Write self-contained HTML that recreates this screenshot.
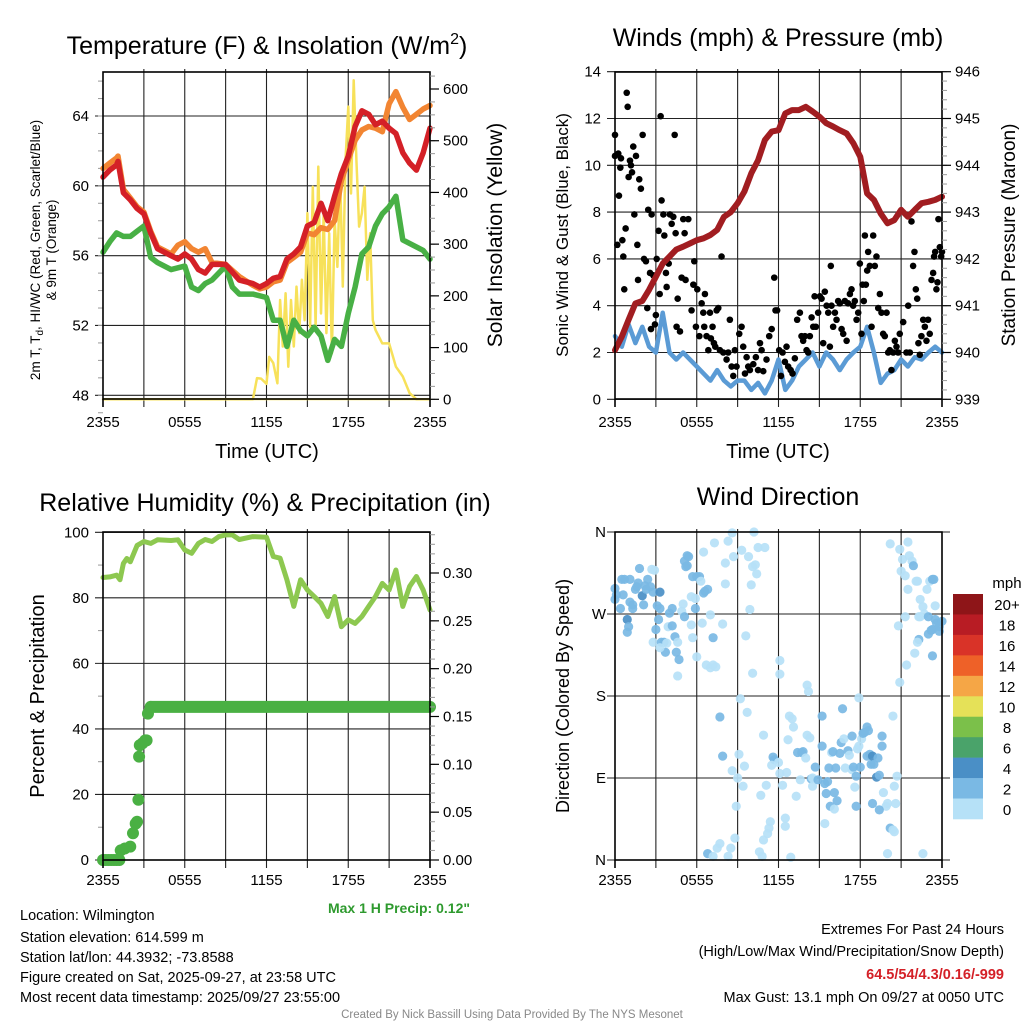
<!DOCTYPE html>
<html><head><meta charset="utf-8">
<style>
html,body{margin:0;padding:0;background:#fff;}
svg{display:block;font-family:"Liberation Sans",Arial,sans-serif;}
</style></head>
<body>
<svg id="c" width="1024" height="1024" viewBox="0 0 1024 1024" xmlns="http://www.w3.org/2000/svg">
<rect width="1024" height="1024" fill="#fff"/>
<text x="267" y="54" font-size="25" text-anchor="middle">Temperature (F) &amp; Insolation (W/m<tspan dy="-10" font-size="16">2</tspan><tspan dy="10">)</tspan></text>
<text x="778" y="46" font-size="25" text-anchor="middle">Winds (mph) &amp; Pressure (mb)</text>
<text x="265" y="511" font-size="25" text-anchor="middle">Relative Humidity (%) &amp; Precipitation (in)</text>
<text x="778" y="505" font-size="25" text-anchor="middle">Wind Direction</text>

<text transform="translate(40,250) rotate(-90)" font-size="13.5" text-anchor="middle">2m T, T<tspan font-size="10" dy="3">d</tspan><tspan dy="-3">, HI/WC (Red, Green, Scarlet/Blue)</tspan></text>
<text transform="translate(56,250) rotate(-90)" font-size="13.5" text-anchor="middle">&amp; 9m T (Orange)</text>
<text transform="translate(502,235) rotate(-90)" font-size="21" text-anchor="middle">Solar Insolation (Yellow)</text>
<text x="267" y="458" font-size="20" text-anchor="middle">Time (UTC)</text>
<text transform="translate(568,235) rotate(-90)" font-size="17" text-anchor="middle">Sonic Wind &amp; Gust (Blue, Black)</text>
<text transform="translate(1015,235) rotate(-90)" font-size="19" text-anchor="middle">Station Pressure (Maroon)</text>
<text x="778" y="458" font-size="20" text-anchor="middle">Time (UTC)</text>
<text transform="translate(44,696) rotate(-90)" font-size="20" text-anchor="middle">Percent &amp; Precipitation</text>
<text transform="translate(569,696) rotate(-90)" font-size="18" text-anchor="middle">Direction (Colored By Speed)</text>

<text x="470" y="913" font-size="14" font-weight="bold" fill="#2e9a2e" text-anchor="end">Max 1 H Precip: 0.12"</text>
<g font-size="14.5">
<text x="20" y="920">Location: Wilmington</text>
<text x="20" y="942">Station elevation: 614.599 m</text>
<text x="20" y="962">Station lat/lon: 44.3932; -73.8588</text>
<text x="20" y="982">Figure created on Sat, 2025-09-27, at 23:58 UTC</text>
<text x="20" y="1002">Most recent data timestamp: 2025/09/27 23:55:00</text>
</g>
<g font-size="14.5" text-anchor="end">
<text x="1004" y="934">Extremes For Past 24 Hours</text>
<text x="1004" y="956">(High/Low/Max Wind/Precipitation/Snow Depth)</text>
<text x="1004" y="979" fill="#d42027" font-weight="bold">64.5/54/4.3/0.16/-999</text>
<text x="1004" y="1002">Max Gust: 13.1 mph On 09/27 at 0050 UTC</text>
</g>
<text x="512" y="1018" font-size="11.5" fill="#888" text-anchor="middle">Created By Nick Bassill Using Data Provided By The NYS Mesonet</text>
</svg>
<script>
// ---- Temperature panel data ----
const tHours = [0,0.5,1,1.1,1.5,2,2.5,3,3.5,4,5,5.5,6,6.5,7,7.5,8,9,10,11,11.5,12,12.5,13,13.5,14,14.5,15,15.5,16,16.5,17,17.5,18,18.5,19,19.5,20,20.5,21,21.5,22,22.5,23,23.5,24];
const tempRed = [60.5,60.9,61.2,61.4,59.6,59.2,58.7,58.4,57.3,56.4,56,55.8,56.1,55.8,55.2,55,55.5,55.5,54.6,54.4,54.2,54.4,54.7,54.8,55.8,56.1,56.5,57.7,57.9,59,58,59.4,60.7,61.7,63.4,64.3,64.1,63.5,63.7,63.3,63,61.9,61.3,60.9,61.9,63.3];
const tempOrange = [61,61.3,61.6,61.7,59.8,59.3,58.8,58.5,57.4,56.5,56.1,56.6,56.8,56.4,56.2,56.4,55.6,55.5,54.8,54.3,54.1,54.2,54.5,54.6,55.6,55.9,56.2,57.3,57.2,57.6,57.5,58,60.3,61.5,62.6,63.2,63.4,63.3,63.1,64.7,65.4,64.5,63.8,64.1,64.4,64.6];
const dewHours = [0,0.5,1,1.5,2,2.5,3,3.5,4,5,6,6.5,7,7.5,8,9,9.5,10,11,12,12.5,13,13.5,14,14.5,15,15.5,16,16.5,17,17.5,18,18.5,19,19.5,20,20.5,21,21.5,22,22.5,23,23.5,24];
const dewGreen = [56.2,56.8,57.3,57.1,57.1,57.4,57.7,55.9,55.6,55.2,55.4,54.2,54,54.4,54.6,55.4,54.2,53.8,53.8,53.6,52.3,52.3,50.8,52.3,51.7,51.4,51.9,51.4,50,51.2,50.8,52.7,54.2,56.1,56.5,57.7,58.4,58.8,59.4,56.9,56.7,56.5,56.3,55.8];
const solarHours = [0,11,11.3,11.6,12,12.2,12.5,12.8,13,13.2,13.4,13.6,13.8,14,14.2,14.4,14.6,14.8,15,15.2,15.4,15.6,15.8,16,16.2,16.4,16.6,16.8,17,17.2,17.4,17.6,17.8,18,18.2,18.4,18.6,18.8,19,19.2,19.4,19.6,19.8,20,20.5,21,21.5,22,22.5,23,24];
const solarW = [0,0,41,40,30,82,70,31,192,102,205,63,192,102,218,128,231,153,360,140,411,140,450,166,360,128,321,89,347,256,437,218,463,566,398,617,463,334,360,411,231,321,153,134,108,108,63,44,12,0,0];
const tempTicks = [48,52,56,60,64];
const solarTicks = [0,100,200,300,400,500,600];
const timeLabels = ["2355","0555","1155","1755","2355"];

// ---- Wind panel data ----
const presHours = [0,0.5,1,1.5,2,2.5,3,3.5,4,4.5,5,5.5,6,6.5,7,7.5,8,8.5,9,9.5,10,10.5,11,11.5,12,12.5,13,13.5,14,14.5,15,15.5,16,16.5,17,17.5,18,18.5,19,19.5,20,20.5,21,21.5,22,22.5,23,23.5,24];
const pressureMb = [940.05,940.34,940.7,941.05,941.1,941.34,941.62,941.9,942.05,942.2,942.26,942.33,942.4,942.44,942.51,942.62,942.9,943.0,943.19,943.44,943.83,944.11,944.54,944.72,944.75,945.11,945.18,945.18,945.25,945.15,945.04,944.9,944.83,944.75,944.68,944.47,944.18,943.4,943.26,942.97,942.76,942.83,943.05,942.9,943.05,943.19,943.22,943.26,943.33];
const windSpeed = [2.7,2.25,3.2,2.4,3.1,2.25,2,3.7,2,1.7,2,1.7,1.4,1.1,0.8,1.25,0.8,0.55,0.8,0.8,0.4,0.7,0.25,0.8,1.7,0.4,0.8,1.4,1.7,2,1.4,2,1.7,1.25,1.7,2,2.25,3.1,2,0.7,1.1,1.25,1.7,1.4,1.8,1.7,2,2.25,2];
const gustH = [0,0,0.17,0.24,0.29,0.39,0.44,0.54,0.61,0.68,0.78,0.86,0.93,1.0,1.1,1.17,1.25,1.34,1.42,1.54,1.64,1.69,1.78,1.9,2.03,2.13,2.27,2.37,2.44,2.57,2.64,2.69,2.81,2.93,3.0,3.06,3.2,3.28,3.35,3.42,3.55,3.62,3.74,3.79,3.94,4.03,4.16,4.28,4.38,4.45,4.52,4.6,4.77,4.89,5.01,5.11,5.18,5.38,5.62,5.75,5.82,5.94,6.04,6.19,6.36,6.48,6.55,6.6,6.72,6.85,6.97,7.04,7.16,7.26,7.36,7.46,7.58,7.7,7.82,7.95,8.19,8.31,8.43,8.56,8.68,8.8,8.92,9.12,9.29,9.41,9.54,9.66,9.78,9.9,10.15,10.34,10.5,10.64,10.76,10.88,11.12,11.32,11.5,11.69,11.78,11.9,12.05,12.18,12.3,12.47,12.59,12.71,12.89,13.03,13.2,13.37,13.57,13.69,13.81,13.94,14.06,14.18,14.3,14.43,14.55,14.65,14.74,14.91,15.04,15.16,15.28,15.4,15.53,15.65,15.77,15.84,15.89,16.01,16.14,16.26,16.38,16.5,16.63,16.75,16.87,17.0,17.11,17.24,17.36,17.48,17.6,17.73,17.85,17.97,18.09,18.17,18.26,18.34,18.41,18.51,18.58,18.7,18.83,18.95,19.07,19.19,19.32,19.44,19.56,19.68,19.8,19.93,20.05,20.17,20.29,20.42,20.54,20.66,20.78,20.9,21.15,21.39,21.52,21.64,21.76,21.88,21.98,22.08,22.18,22.27,22.37,22.49,22.62,22.74,22.86,22.98,23.1,23.23,23.35,23.42,23.5,23.59,23.67,23.74,23.84,23.94,24];
const gustV = [11.3,10.4,6.6,10.5,8.7,9.9,10.3,6.8,6.1,4.7,7.3,13.1,12.5,9.5,10.2,10.0,9.7,10.8,7.9,10.4,6.6,5.1,9.4,9.0,11.3,6.0,5.9,3.9,8.1,5.4,3.0,7.9,5.3,3.2,3.6,6.0,7.2,4.5,12.1,8.5,7.9,7.0,5.4,4.8,5.8,7.9,7.5,7.8,11.3,7.1,3.1,4.3,2.9,5.2,7.7,7.1,5.1,7.7,3.8,4.9,5.9,3.1,4.7,2.7,4.1,3.7,3.1,4.5,2.7,2.1,3.7,2.6,3.1,2.4,2.25,3.8,3.9,2.1,6.1,2.0,1.7,2.0,3.4,1.4,1.0,2.1,1.4,2.8,3.1,2.25,1.1,1.8,1.4,1.25,1.5,1.8,1.25,2.4,2.1,1.2,1.7,2.7,3.0,5.2,3.8,3.8,2.1,1.0,2.0,1.6,2.25,1.4,1.25,1.1,1.75,3.4,3.7,2.7,2.5,2.7,2.1,2.0,2.7,3.5,3.1,4.4,3.1,3.7,4.4,4.3,2.4,4.6,4.0,3.7,2.25,5.7,4.0,3.1,3.7,3.4,4.2,4.1,3.0,2.8,4.2,2.5,4.1,4.5,4.7,4.0,4.2,3.4,3.7,5.8,2.8,4.9,4.2,7.0,4.9,5.5,6.3,5.7,3.1,7.0,5.7,6.1,3.9,4.5,3.7,2.8,2.7,3.7,2.0,2.1,1.25,2.0,2.5,2.25,2.0,2.8,3.3,2.0,4.0,2.0,7.6,5.7,6.3,4.7,4.3,2.4,1.9,2.7,3.4,3.1,2.5,3.4,2.8,5.1,5.4,6.1,6.3,4.7,5.0,7.7,6.5,6.1,6.3];
const windTicks = [0,2,4,6,8,10,12,14];
const presTicks = [939,940,941,942,943,944,945,946];

// ---- RH / precip panel data ----
const rhHours = [0,0.5,1,1.25,1.5,1.75,2,2.5,3,3.5,4,5,5.5,6,6.5,7,7.5,8,8.5,9,9.5,10,11,12,12.5,13,13.5,14,14.5,15,15.5,16,16.5,17,17.5,18,18.5,19,19.5,20,20.5,21,21.5,22,22.5,23,23.5,24];
const rhPct = [86.2,86.4,86.9,85.5,90.5,92,91,96,97.2,96.6,97.7,97.5,97.7,94.6,93.6,96.6,97.8,97.2,98.7,99.2,99.2,97.8,98.7,98.5,92.6,92.1,85.5,77.4,85.5,82.4,80.4,78.3,74.3,80.4,71.2,73.3,72.2,74.3,77.4,80.4,84.4,82.4,88.5,77.4,83.5,86.5,82.4,76.3];
const precipHours = [0,0.2,0.4,0.6,0.8,1.0,1.2,1.3,1.6,2.0,2.2,2.4,2.5,2.6,2.65,2.7,2.9,3.1,3.2,3.3,3.5];
const precipIn = [0,0,0,0,0,0,0,0.01,0.012,0.014,0.028,0.038,0.04,0.063,0.108,0.12,0.122,0.125,0.125,0.153,0.16];
const precipFlat = 0.16;
const rhTicks = [0,20,40,60,80,100];
const precipTicks = ["0.00","0.05","0.10","0.15","0.20","0.25","0.30"];

// ---- Wind direction panel data ----
const dirH = [0,0,0.1,0.4,0.5,0.6,0.7,0.9,1.0,0.9,1.1,1.1,1.3,1.3,1.5,1.6,1.7,1.8,2.0,2.1,2.2,2.3,2.4,2.6,2.7,2.8,2.9,3.1,3.2,3.0,3.3,3.3,2.8,3.4,3.6,3.7,3.3,3.8,3.9,4.0,4.2,4.2,4.4,4.5,4.6,4.7,4.6,4.9,5.0,5.1,5.1,5.3,5.4,5.2,5.3,5.7,6.0,6.2,6.3,5.9,5.6,5.9,5.6,5.7,6.0,6.4,6.5,6.6,6.8,6.5,7.0,7.2,6.7,7.0,7.2,7.4,7.3,7.9,8.1,8.1,8.3,8.6,8.7,9.3,9.6,9.8,9.9,10.0,10.1,10.1,10.2,10.3,10.4,10.5,11.0,9.2,9.7,7.7,7.9,9.1,8.6,9.5,9.0,9.4,8.9,8.8,8.5,8.3,7.7,7.5,6.8,7.2,10.7,11.1,10.6,10.8,10.9,11.2,11.4,11.3,11.6,11.7,11.5,12.0,12.1,12.3,12.6,12.7,12.5,12.5,12.9,12.8,13.0,13.1,12.1,12.1,10.9,13.3,13.4,13.6,13.7,13.8,14.0,14.1,14.3,14.1,14.2,14.4,14.5,14.5,14.7,14.9,15.2,15.2,15.4,15.5,15.6,15.7,15.8,16.1,16.1,16.2,16.3,15.4,15.9,16.0,16.5,16.6,16.7,16.8,16.9,17.1,17.2,17.4,17.5,17.4,17.6,17.7,17.7,17.8,17.9,18.0,18.1,18.2,18.3,18.5,18.6,18.5,18.7,18.8,18.9,19.0,19.2,19.3,19.4,19.6,19.6,19.7,19.9,20.0,19.4,18.9,20.2,20.4,20.5,20.0,20.4,20.5,20.6,20.7,20.2,20.9,21.1,21.0,21.3,21.5,21.6,21.8,21.9,21.5,22.1,22.2,22.4,22.6,22.3,22.4,21.3,20.8,22.3,22.2,22.0,21.4,20.9,22.7,22.9,23.0,23.1,23.3,23.4,23.5,23.0,23.2,23.3,23.3,23.5,23.6,23.8,24.0,23.8,17.9,22.6];
const dirDeg = [298,286,291,276,308,291,308,264,256,250,308,283,276,280,297,300,304,320,290,280,301,297,308,300,319,294,318,279,264,253,276,294,239,239,239,228,233,238,256,271,276,257,245,228,239,220,202,273,281,267,328,334,333,322,323,311,311,311,306,276,289,287,258,244,223,260,293,295,297,338,269,244,214,211,214,212,348,259,326,303,350,359,333,340,246,333,275,302,205,322,360,324,314,343,343,177,162,157,114,116,98,103,90,81,59,24,13,4,18,13,7,4,71,82,9,4,22,29,42,35,113,110,104,107,95,82,96,132,46,37,3,158,155,146,219,204,137,70,118,88,118,119,112,137,134,192,185,89,81,90,102,88,125,158,84,73,86,101,59,56,74,101,65,40,118,119,117,129,166,133,101,120,115,99,102,136,80,59,92,122,125,102,133,139,140,146,142,114,116,105,114,105,91,112,93,125,136,74,59,62,55,62,35,33,31,7,158,81,62,92,347,341,330,317,312,349,334,328,323,297,306,306,286,278,267,267,267,257,242,239,227,214,195,270,297,267,306,308,308,279,248,252,253,224,264,260,256,262,251,178,7];
const dirSpd = [3,3,3,3,3,3,3,5,3,3,3,3,3,3,3,3,3,3,5,3,3,3,3,3,1,3,1,3,3,3,3,5,1,3,3,3,1,1,1,3,3,3,3,3,1,3,1,1,1,3,3,3,3,3,3,3,3,3,1,3,1,1,1,1,1,1,3,3,3,1,1,3,1,1,1,1,1,1,1,1,1,1,1,1,1,1,1,1,1,1,1,1,1,1,1,1,1,3,3,1,1,1,1,1,1,1,1,1,1,1,3,1,1,1,1,1,1,1,1,1,3,3,1,1,1,1,1,1,1,1,1,1,1,1,1,1,1,1,3,1,3,3,1,1,1,1,1,3,1,1,3,3,3,3,3,3,3,3,3,1,3,3,3,1,1,3,3,3,3,1,1,3,1,1,3,3,1,3,3,1,1,3,1,3,3,3,3,3,3,3,5,3,5,3,3,3,3,1,1,1,3,3,3,1,1,1,1,1,1,1,1,1,1,1,1,1,1,1,3,1,1,1,1,1,1,1,1,1,3,1,1,1,1,1,1,3,1,3,3,1,3,3,3,3,3,3,3,3,3,1,1];
const dirLabels = ["N","E","S","W","N"];
const speedBins = ["0","2","4","6","8","10","12","14","16","18","20+"];
const speedColors = ["#b6e1f7","#7ab9e4","#4a8fc6","#4aa36a","#7bc04a","#e5e158","#f5a646","#ee6128","#d93328","#b81c24","#8e1518"];

const svg = document.getElementById('c');
const NS = 'http://www.w3.org/2000/svg';
function mk(tag, attrs, parent){
  const e = document.createElementNS(NS, tag);
  for (const k in attrs) e.setAttribute(k, attrs[k]);
  (parent||svg).appendChild(e);
  return e;
}
function panel(x0,x1,y0,y1,name){
  const g = mk('g',{});
  
  
  return g;
}
function xScale(x0,x1){ return h => x0 + (h/24)*(x1-x0); }
function lin(v0,p0,v1,p1){ return v => p0 + (v-v0)*(p1-p0)/(v1-v0); }

function grid(g,x0,x1,y0,y1,yVals,yf){
  const X = xScale(x0,x1);
  for (let i=1;i<8;i++){
    const l = mk('line',{x1:X(i*3),x2:X(i*3),y1:y0-3,y2:y1+8,stroke:'#222','stroke-width':1.1},g);
    
    
  }
  yVals.forEach(v=>{
    const y = yf(v);
    const l = mk('line',{x1:x0-8,x2:x1,y1:y,y2:y,stroke:'#222','stroke-width':1.1},g);
    
    
  });
}
function frame(g,x0,x1,y0,y1){
  const r = mk('rect',{x:x0,y:y0,width:x1-x0,height:y1-y0,fill:'none',stroke:'#000','stroke-width':1.6},g);
  
  
  mk('line',{x1:x0,x2:x0,y1:y1,y2:y1+8,stroke:'#000','stroke-width':1.6},g);
  mk('line',{x1:x1,x2:x1,y1:y1,y2:y1+8,stroke:'#000','stroke-width':1.6},g);
}
function xLabels(g,x0,x1,y){
  const X = xScale(x0,x1);
  timeLabels.forEach((t,i)=>{
    const tx = mk('text',{x:X(i*6),y:y,'font-size':15,'text-anchor':'middle'},g);
    tx.textContent = t;
    
    
  });
}
function leftLabels(g,x,vals,yf,texts){
  vals.forEach((v,i)=>{
    const tx = mk('text',{x:x,y:yf(v)+5,'font-size':15,'text-anchor':'end'},g);
    tx.textContent = texts ? texts[i] : v;
    
    
  });
}
function rightAxis(g,x,vals,yf,texts,minorStep,minorFrom,minorTo){
  for (let v=minorFrom; v<=minorTo+1e-9; v+=minorStep){
    mk('line',{x1:x,x2:x+5,y1:yf(v),y2:yf(v),stroke:'#999','stroke-width':1},g);
  }
  vals.forEach((v,i)=>{
    mk('line',{x1:x,x2:x+9,y1:yf(v),y2:yf(v),stroke:'#000','stroke-width':1.2},g);
    const tx = mk('text',{x:x+13,y:yf(v)+5,'font-size':15},g);
    tx.textContent = texts ? texts[i] : v;
    
    
  });
}
function line(g,xs,ys,X,Y,color,w,name){
  const d = xs.map((h,i)=>(i?'L':'M')+X(h).toFixed(1)+' '+Y(ys[i]).toFixed(1)).join(' ');
  const p = mk('path',{d:d,fill:'none',stroke:color,'stroke-width':w,'stroke-linejoin':'round','stroke-linecap':'round'},g);
  
  
  return p;
}

// ===== Panel 1: Temperature =====
{
  const x0=103,x1=430,y0=72,y1=399;
  const g = panel(x0,x1,y0,y1,'temperature-chart');
  const X = xScale(x0,x1);
  const YT = lin(48,395.3,64,116);
  const YS = lin(0,399.3,600,89);
  grid(g,x0,x1,y0,y1,tempTicks,YT);
  for (let v=47; v<=66; v++) mk('line',{x1:x0-5,x2:x0,y1:YT(v),y2:YT(v),stroke:'#999'},g);
  line(g,solarHours,solarW,X,YS,'#f7e15a',2.5,'solar-insolation-line');
  line(g,dewHours,dewGreen,X,YT,'#48b045',5.5,'dewpoint-line');
  line(g,tHours,tempOrange,X,YT,'#f28532',5.5,'temp-9m-line');
  line(g,tHours,tempRed,X,YT,'#d42027',5.5,'temp-2m-line');
  mk('line',{x1:x0,x2:x1,y1:YS(0),y2:YS(0),stroke:'#f7e15a','stroke-width':2},g);
  frame(g,x0,x1,y0,y1);
  xLabels(g,x0,x1,427);
  leftLabels(g,x0-14,tempTicks,YT);
  rightAxis(g,x1,solarTicks,YS,null,25,0,625);
}
// ===== Panel 2: Wind & pressure =====
{
  const x0=615,x1=942,y0=72,y1=399;
  const g = panel(x0,x1,y0,y1,'wind-pressure-chart');
  const X = xScale(x0,x1);
  const YW = lin(0,399.3,14,71.7);
  const YP = lin(939,399.3,946,71.7);
  grid(g,x0,x1,y0,y1,windTicks,YW);
  line(g,presHours,windSpeed,X,YW,'#5b9bd5',4.5,'sonic-wind-line');
  gustH.forEach((h,i)=>{
    const c = mk('circle',{cx:X(h),cy:YW(gustV[i]),r:3.3,fill:'#000'},g);
    
    
  });
  line(g,presHours,pressureMb,X,YP,'#a11d21',6,'pressure-line');
  frame(g,x0,x1,y0,y1);
  xLabels(g,x0,x1,427);
  leftLabels(g,x0-14,windTicks,YW);
  rightAxis(g,x1,presTicks,YP,null,0.2,939,946);
}
// ===== Panel 3: RH & precip =====
{
  const x0=103,x1=430,y0=532,y1=860;
  const g = panel(x0,x1,y0,y1,'humidity-precip-chart');
  const X = xScale(x0,x1);
  const YR = lin(0,860,100,532.3);
  const YP = lin(0,860,0.30,573);
  grid(g,x0,x1,y0,y1,rhTicks,YR);
  for (let v=10; v<=90; v+=20) mk('line',{x1:x0-5,x2:x0,y1:YR(v),y2:YR(v),stroke:'#999'},g);
  line(g,rhHours,rhPct,X,YR,'#8dc850',5,'rh-line');
  precipHours.forEach((h,i)=>{
    const c = mk('circle',{cx:X(h),cy:YP(precipIn[i]),r:6,fill:'#4ab043'},g);
    
    
  });
  const fl = mk('line',{x1:X(precipHours[precipHours.length-1]),x2:X(24),y1:YP(precipFlat),y2:YP(precipFlat),stroke:'#4ab043','stroke-width':12,'stroke-linecap':'round'},g);
  
  
  frame(g,x0,x1,y0,y1);
  xLabels(g,x0,x1,885);
  leftLabels(g,x0-14,rhTicks,YR);
  rightAxis(g,x1,precipTicks.map(Number),YP,precipTicks,0.01,0,0.34);
}
// ===== Panel 4: Wind direction =====
{
  const x0=615,x1=942,y0=532,y1=860;
  const g = panel(x0,x1,y0,y1,'wind-direction-chart');
  const X = xScale(x0,x1);
  const YD = lin(0,860,360,532);
  grid(g,x0,x1,y0,y1,[0,90,180,270,360],YD);
  [0,90,180,270,360].forEach(v=>mk('line',{x1:x1,x2:x1+8,y1:YD(v),y2:YD(v),stroke:'#222'},g));
  dirH.forEach((h,i)=>{
    const s = dirSpd[i];
    const bin = Math.min(10, Math.floor(s/2));
    const c = mk('circle',{cx:X(h),cy:YD(dirDeg[i]),r:4.6,fill:speedColors[bin],'fill-opacity':0.92},g);
    
    
  });
  frame(g,x0,x1,y0,y1);
  xLabels(g,x0,x1,885);
  leftLabels(g,x0-9,[0,90,180,270,360],YD,dirLabels);
  const cb = mk('g',{},g);
  
  
  const cbTop=594, cbH=225/11;
  speedBins.forEach((lab,i)=>{
    const idx = 10-i;
    const y = cbTop + i*cbH;
    const r = mk('rect',{x:953,y:y,width:30,height:cbH+0.3,fill:speedColors[idx]},cb);
    
    
    const t = mk('text',{x:1007,y:y+cbH/2+6,'font-size':15,'text-anchor':'middle'},cb);
    t.textContent = speedBins[idx];
    
    
  });
  const u = mk('text',{x:1007,y:588,'font-size':15,'text-anchor':'middle'},cb);
  u.textContent = 'mph';
  
  
}
</script>
</body></html>
